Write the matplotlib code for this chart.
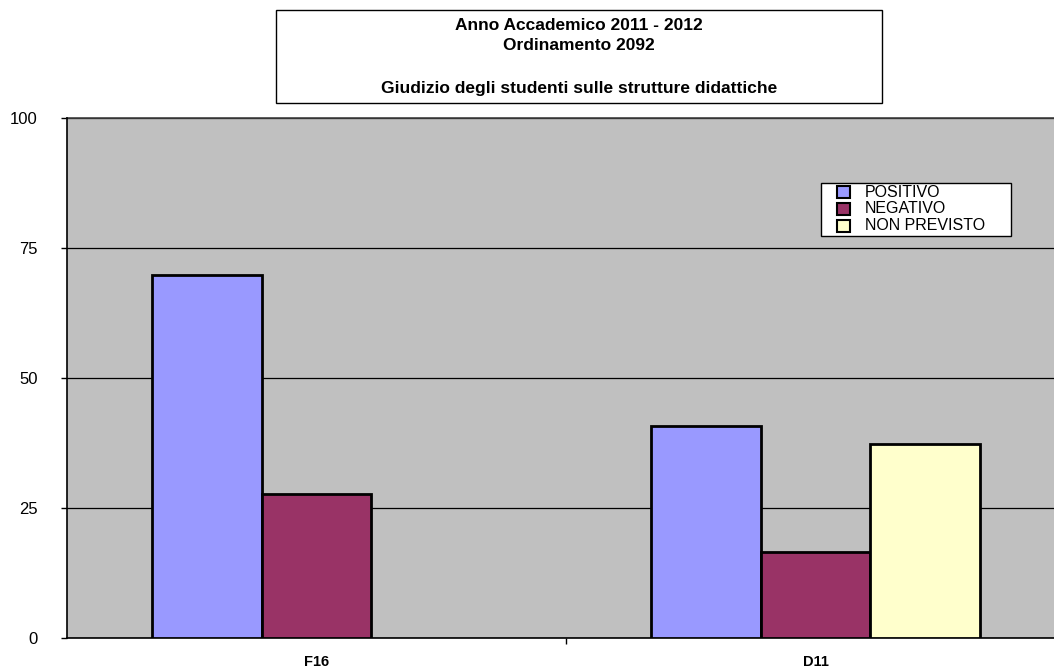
import numpy as np
import matplotlib
matplotlib.use('Agg')
import matplotlib.pyplot as plt
from matplotlib.patches import Rectangle

plt.rcParams['font.family'] = ['Liberation Sans', 'DejaVu Sans']

# data
categories = ['F16', 'D11']
series = ['POSITIVO', 'NEGATIVO', 'NON PREVISTO']
positivo = [69.8, 40.8]
negativo = [27.7, 16.5]
non_previsto = [0.0, 37.4]
colors = ['#9999FF', '#993366', '#FFFFCC']
title_lines = ['Anno Accademico 2011 - 2012', 'Ordinamento 2092', '',
               'Giudizio degli studenti sulle strutture didattiche']

fig = plt.figure(figsize=(10.54, 6.70), dpi=100)
W, H = 1054, 670
# axes runs past the right edge of the picture, like the original
ax = fig.add_axes([67 / W, 32 / H, 998 / W, 520 / H])
ax.set_facecolor('#C0C0C0')

x = np.arange(len(categories))
width = 0.22
values = [positivo, negativo, non_previsto]
for i, vals in enumerate(values):
    vals = np.array(vals)
    mask = vals > 0
    ax.bar(x[mask] + (i - 1) * width, vals[mask], width,
           color=colors[i], edgecolor='black', linewidth=2, zorder=3)

ax.set_xlim(-0.5, 1.5)
ax.set_ylim(0, 100)
ax.set_yticks([0, 25, 50, 75, 100])
ax.yaxis.grid(True, color='black', linewidth=0.9, zorder=1)
ax.set_axisbelow(True)
ax.tick_params(axis='y', direction='out', length=4, width=1, labelsize=12, pad=17)

ax.set_xticks([0.5])
ax.set_xticklabels([''])
ax.tick_params(axis='x', direction='out', length=4, width=1)
for xi, c in zip(x, categories):
    ax.text(xi, -3.2, c, ha='center', va='top', fontsize=10.5, fontweight='bold')

for s in ['top', 'right']:
    ax.spines[s].set_visible(False)
ax.spines['left'].set_linewidth(1.2)
ax.spines['bottom'].set_linewidth(1.2)
ax.plot([0, 1], [1, 1], transform=ax.transAxes, color='#404040', linewidth=1.2,
        clip_on=False)

# legend box drawn by hand to match the original spacing
fig.patches.append(Rectangle((821 / W, 1 - 236 / H), 190 / W, 53 / H,
                             transform=fig.transFigure, facecolor='white',
                             edgecolor='black', linewidth=1, zorder=5))
for i, name in enumerate(series):
    yc = 192 + i * 17
    fig.patches.append(Rectangle((837 / W, 1 - (yc + 6) / H), 13 / W, 12 / H,
                                 transform=fig.transFigure, facecolor=colors[i],
                                 edgecolor='black', linewidth=1.5, zorder=6))
    fig.text(865 / W, 1 - yc / H, name, ha='left', va='center', fontsize=11.5,
             zorder=7)

# title box
fig.patches.append(Rectangle((276 / W, 1 - 103 / H), (882 - 276) / W, 93 / H,
                             transform=fig.transFigure, facecolor='white',
                             edgecolor='black', linewidth=1))
for txt, yy in zip(title_lines, [26, 45, 66, 89]):
    if txt:
        fig.text(579 / W, 1 - yy / H, txt, ha='center', va='center',
                 fontsize=12.5, fontweight='bold')

fig.savefig('out.png', dpi=100)
